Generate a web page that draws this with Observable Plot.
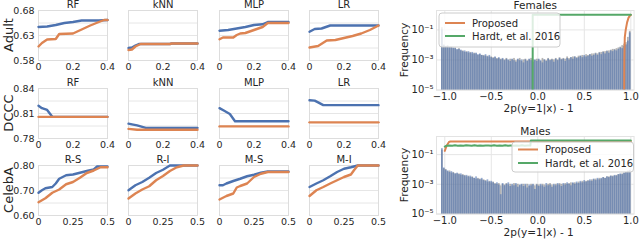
<!DOCTYPE html>
<html><head><meta charset="utf-8">
<script src="https://cdn.jsdelivr.net/npm/d3@7"></script>
<script src="https://cdn.jsdelivr.net/npm/@observablehq/plot@0.6"></script>
<style>
html,body{margin:0;padding:0;background:#fff;}
#c{position:relative;width:640px;height:242px;overflow:hidden;font-family:"DejaVu Sans",sans-serif;color:#262626;}
#c svg{position:absolute;}
.lbl{position:absolute;white-space:nowrap;line-height:1;transform-origin:center center;color:#262626;font-family:"DejaVu Sans",sans-serif;}
</style></head><body><div id="c"></div>
<script>
// ---------- small panels data ([fairness tolerance, accuracy]) ----------
const adultRF_blue   = [[0,0.647],[0.05,0.648],[0.1,0.651],[0.15,0.655],[0.2,0.657],[0.25,0.66],[0.3,0.66],[0.35,0.66],[0.4,0.661]];
const adultRF_orange = [[0,0.608],[0.02,0.615],[0.05,0.622],[0.1,0.623],[0.12,0.633],[0.2,0.634],[0.25,0.642],[0.3,0.65],[0.35,0.657],[0.38,0.661],[0.4,0.661]];
const adultKNN_blue   = [[0,0.605],[0.02,0.606],[0.04,0.61],[0.06,0.613],[0.24,0.613],[0.25,0.614],[0.4,0.614]];
const adultKNN_orange = [[0,0.601],[0.02,0.602],[0.04,0.608],[0.07,0.613],[0.24,0.613],[0.25,0.614],[0.4,0.614]];
const adultMLP_blue   = [[0,0.6395],[0.05,0.641],[0.1,0.644],[0.15,0.647],[0.2,0.651],[0.25,0.6525],[0.28,0.657],[0.4,0.657]];
const adultMLP_orange = [[0,0.6225],[0.02,0.626],[0.08,0.626],[0.1,0.631],[0.12,0.634],[0.15,0.635],[0.2,0.641],[0.25,0.647],[0.28,0.655],[0.4,0.655]];
const adultLR_blue   = [[0,0.6375],[0.03,0.643],[0.07,0.644],[0.12,0.65],[0.4,0.65]];
const adultLR_orange = [[0,0.606],[0.05,0.609],[0.1,0.62],[0.15,0.621],[0.2,0.625],[0.25,0.629],[0.3,0.634],[0.35,0.641],[0.4,0.65]];

const dcccRF_blue   = [[0,0.8193],[0.02,0.8164],[0.05,0.8143],[0.08,0.806],[0.4,0.806]];
const dcccRF_orange = [[0,0.806],[0.4,0.806]];
const dcccKNN_blue   = [[0,0.7978],[0.02,0.797],[0.05,0.7957],[0.1,0.7928],[0.4,0.7928]];
const dcccKNN_orange = [[0,0.7916],[0.05,0.7905],[0.4,0.7905]];
const dcccMLP_blue   = [[0,0.8164],[0.03,0.813],[0.06,0.8094],[0.09,0.8007],[0.4,0.8007]];
const dcccMLP_orange = [[0,0.7945],[0.4,0.7945]];
const dcccLR_blue   = [[0,0.8259],[0.03,0.8255],[0.05,0.8234],[0.08,0.82],[0.4,0.82]];
const dcccLR_orange = [[0,0.7994],[0.4,0.7994]];

const celebRS_blue   = [[0,0.691],[0.025,0.701],[0.05,0.709],[0.1,0.714],[0.125,0.728],[0.15,0.747],[0.2,0.761],[0.25,0.764],[0.3,0.771],[0.35,0.778],[0.4,0.784],[0.425,0.796],[0.5,0.796]];
const celebRS_orange = [[0,0.653],[0.05,0.669],[0.1,0.691],[0.15,0.704],[0.2,0.725],[0.25,0.734],[0.3,0.751],[0.35,0.77],[0.4,0.78],[0.45,0.793],[0.5,0.793]];
const celebRI_blue   = [[0,0.701],[0.05,0.721],[0.1,0.734],[0.15,0.751],[0.2,0.77],[0.25,0.783],[0.3,0.8],[0.5,0.8]];
const celebRI_orange = [[0,0.668],[0.05,0.688],[0.1,0.704],[0.15,0.717],[0.2,0.741],[0.25,0.758],[0.3,0.778],[0.35,0.793],[0.4,0.8],[0.5,0.8]];
const celebMS_blue   = [[0,0.721],[0.025,0.721],[0.05,0.728],[0.1,0.738],[0.15,0.747],[0.2,0.757],[0.25,0.763],[0.3,0.771],[0.35,0.776],[0.5,0.776]];
const celebMS_orange = [[0,0.664],[0.05,0.678],[0.1,0.688],[0.125,0.712],[0.15,0.718],[0.2,0.728],[0.25,0.754],[0.3,0.767],[0.35,0.774],[0.5,0.774]];
const celebMI_blue   = [[0,0.714],[0.05,0.728],[0.1,0.741],[0.15,0.757],[0.2,0.774],[0.25,0.787],[0.3,0.793],[0.35,0.8],[0.5,0.8]];
const celebMI_orange = [[0,0.678],[0.05,0.701],[0.1,0.714],[0.15,0.728],[0.2,0.741],[0.25,0.754],[0.3,0.764],[0.325,0.783],[0.35,0.8],[0.5,0.8]];

const adultTitles = ["RF","kNN","MLP","LR"];
const celebTitles = ["R-S","R-I","M-S","M-I"];
const rowNames = ["Adult","DCCC","CelebA"];
const adultYTicks = [0.58,0.605,0.63,0.655,0.68];
const adultYLabels = [0.58,0.63,0.68];
const dcccYTicks = [0.78,0.795,0.81,0.825,0.84];
const dcccYLabels = [0.78,0.81,0.84];
const celebYTicks = [0.6,0.65,0.7,0.75,0.8];
const celebYLabels = [0.6,0.7,0.8];
const xTicks04 = [0,0.2,0.4];
const xTicks05 = [0,0.25,0.5];

// ---------- histogram data (log10 frequency, 100 bins over [-1,1]) ----------
const femalesBlue = [
-1.0,-2.05,-2.1,-2.1,-2.15,-2.2,-2.2,-2.25,-2.3,-2.3,
-2.35,-2.45,-2.4,-2.5,-2.45,-2.55,-2.5,-2.6,-2.55,-2.65,
-2.6,-2.7,-2.75,-2.65,-2.8,-2.7,-2.85,-2.9,-2.8,-2.95,
-2.85,-3.0,-2.9,-3.05,-2.95,-3.0,-3.1,-2.95,-3.05,-3.15,
-2.95,-3.05,-3.0,-3.2,-3.0,-3.1,-2.95,-3.05,-3.15,-3.0,
-3.1,-2.95,-3.05,-3.2,-3.0,-3.1,-2.95,-3.05,-3.0,-3.15,
-2.95,-3.05,-2.9,-3.0,-2.95,-3.1,-2.9,-3.0,-2.85,-2.95,
-2.8,-2.9,-2.85,-2.75,-2.85,-2.7,-2.8,-2.75,-2.65,-2.75,
-2.7,-2.6,-2.7,-2.55,-2.65,-2.5,-2.6,-2.45,-2.55,-2.4,
-2.45,-2.35,-2.4,-2.3,-2.2,-2.25,-2.1,-2.0,-1.75,-1.2];
const femalesGray = [
-0.85,-2.0,-2.15,-2.05,-2.2,-2.15,-2.25,-2.2,-2.35,-2.25,
-2.4,-2.4,-2.5,-2.45,-2.55,-2.5,-2.6,-2.55,-2.6,-2.7,
-2.65,-2.7,-2.7,-2.75,-2.75,-2.8,-2.8,-2.85,-2.85,-2.9,
-2.9,-2.95,-2.95,-3.0,-2.9,-3.05,-2.95,-3.0,-2.9,-3.05,
-3.0,-2.9,-3.1,-3.0,-2.95,-3.05,-3.0,-2.9,-3.0,-3.05,
-2.95,-3.0,-3.1,-2.9,-3.0,-3.05,-2.9,-3.0,-2.95,-3.0,
-2.9,-3.0,-2.85,-2.95,-2.9,-2.95,-2.8,-2.9,-2.85,-2.8,
-2.8,-2.85,-2.75,-2.75,-2.7,-2.8,-2.65,-2.7,-2.65,-2.6,
-2.6,-2.55,-2.6,-2.5,-2.5,-2.45,-2.45,-2.4,-2.4,-2.35,
-2.3,-2.3,-2.25,-2.2,-2.15,-2.05,-1.95,-1.85,-1.5,-1.1];
const malesBlue = [
-0.6,-1.9,-2.05,-2.1,-2.2,-2.15,-2.25,-2.3,-2.25,-2.35,
-2.3,-2.4,-2.45,-2.4,-2.5,-2.45,-2.55,-2.6,-2.5,-2.65,
-2.7,-2.6,-2.75,-2.8,-2.7,-2.85,-2.8,-2.9,-3.0,-2.9,
-3.05,-3.7,-2.95,-3.1,-3.0,-2.9,-3.15,-3.0,-3.1,-2.95,
-3.2,-3.05,-3.0,-3.15,-3.0,-3.25,-3.05,-3.1,-3.0,-3.35,
-3.05,-3.15,-3.0,-3.1,-3.2,-2.95,-3.1,-3.05,-3.2,-3.0,
-3.1,-2.95,-3.05,-3.15,-2.95,-3.05,-2.9,-3.0,-3.1,-2.9,
-3.0,-2.85,-2.95,-2.8,-2.9,-2.75,-2.85,-2.8,-2.7,-2.8,
-2.65,-2.75,-2.6,-2.7,-2.6,-2.55,-2.6,-2.5,-2.55,-2.45,
-2.5,-2.4,-2.45,-2.35,-2.3,-2.35,-2.25,-2.2,-2.15,-2.1];
const malesGray = [
-0.7,-1.95,-2.0,-2.15,-2.1,-2.25,-2.2,-2.3,-2.3,-2.3,
-2.4,-2.35,-2.4,-2.5,-2.45,-2.55,-2.5,-2.6,-2.65,-2.6,
-2.65,-2.7,-2.7,-2.75,-2.85,-2.8,-2.9,-2.85,-2.95,-3.0,
-2.95,-3.1,-3.0,-3.05,-2.95,-3.05,-3.0,-3.1,-2.95,-3.05,
-3.0,-3.1,-3.05,-3.0,-3.1,-3.0,-3.15,-3.0,-3.05,-3.1,
-3.0,-3.05,-3.1,-3.0,-3.05,-3.1,-3.0,-2.95,-3.05,-3.1,
-3.0,-3.05,-2.95,-3.0,-3.05,-2.95,-3.0,-2.95,-2.9,-2.95,
-2.9,-2.95,-2.85,-2.9,-2.8,-2.85,-2.8,-2.75,-2.8,-2.7,
-2.7,-2.65,-2.7,-2.6,-2.65,-2.55,-2.6,-2.5,-2.5,-2.45,
-2.45,-2.45,-2.4,-2.35,-2.35,-2.3,-2.25,-2.2,-2.1,-2.05];

// threshold curves ([2p-1, log10 frequency])
const femalesProposed = [[0.928,-6],[0.93,-3],[0.935,-1.5],[0.945,-1.0],[0.96,-0.5],[0.975,-0.2],[0.99,-0.05],[1.0,0]];
const femalesHardt = [[-0.055,-6],[-0.055,0],[1.0,0]];
const malesProposed = [[-1.0,-0.75],[-0.98,-0.4],[-0.955,-0.15],[-0.94,-0.12],[1.0,-0.1]];
const malesHardt = [[-1.0,-0.46],[-0.98,-0.40],[-0.95,-0.38],[-0.92,-0.41],[-0.89,-0.37],[-0.86,-0.40],[-0.83,-0.38],[-0.80,-0.41],[-0.77,-0.37],[-0.74,-0.39],[-0.71,-0.41],[-0.68,-0.37],[-0.65,-0.40],[-0.62,-0.38],[-0.59,-0.41],[-0.56,-0.38],[-0.53,-0.39],[-0.50,-0.41],[-0.47,-0.37],[-0.44,-0.40],[-0.41,-0.38],[-0.38,-0.41],[-0.35,-0.37],[-0.32,-0.40],[-0.29,-0.38],[-0.26,-0.41],[-0.23,-0.38],[-0.20,-0.40],[-0.17,-0.37],[-0.14,-0.40],[-0.11,-0.38],[-0.08,-0.39],[-0.075,-0.05],[1.0,-0.05]];
const histXTicks = [-1,-0.5,0,0.5,1];
const histYTicks = [1e-5,1e-3,1e-1];
const histTitles = ["Females","Males"];
const legendLabels = ["Proposed","Hardt, et al. 2016"];

// ---------- drawing ----------
const BLUE = "#4c72b0", ORANGE = "#dd8452", GREEN = "#55a868", GRID = "#e6e6e6", INK = "#262626";
const FONT = "DejaVu Sans, sans-serif";
const root = document.getElementById("c");
const pts = a => a.map(([x, y]) => ({x, y}));

function place(svg, left, top) {
  svg.style.position = "absolute";
  svg.style.left = left + "px";
  svg.style.top = top + "px";
  svg.style.background = "transparent";
  svg.style.overflow = "visible";
  svg.style.maxWidth = "none";
  root.appendChild(svg);
}
function htmlLabel(text, cx, cy, size, rot) {
  const d = document.createElement("div");
  d.className = "lbl";
  d.textContent = text;
  d.style.fontSize = size + "px";
  d.style.left = cx + "px";
  d.style.top = cy + "px";
  d.style.transform = "translate(-50%,-50%)" + (rot ? " rotate(" + rot + "deg)" : "");
  root.appendChild(d);
}

function smallPanel({L, T, xDomain, xTicks, yDomain, yTicks, yLabels, blue, orange, title, showY}) {
  const W = 69, H = 50, ml = 42, mr = 10, mt = 14, mb = 16;
  const svg = Plot.plot({
    width: W + ml + mr, height: H + mt + mb,
    marginLeft: ml, marginRight: mr, marginTop: mt, marginBottom: mb,
    x: {domain: xDomain}, y: {domain: yDomain},
    style: {fontFamily: FONT, fontSize: "9.5px", color: INK},
    marks: [
      Plot.ruleY(yTicks, {stroke: GRID, strokeWidth: 1}),
      Plot.frame({stroke: "#dddddd"}),
      Plot.axisX(xTicks, {tickSize: 0, tickPadding: 3, label: null, tickFormat: d => d === 0 ? "0" : String(d)}),
      showY ? Plot.axisY(yLabels, {tickSize: 0, tickPadding: 4, label: null, tickFormat: d => d.toFixed(2)}) : Plot.axisY([], {label: null}),
      Plot.line(pts(blue), {x: "x", y: "y", stroke: BLUE, strokeWidth: 2.4}),
      Plot.line(pts(orange), {x: "x", y: "y", stroke: ORANGE, strokeWidth: 2.4}),
      Plot.text([title], {frameAnchor: "top", dy: -6, lineAnchor: "middle", fontSize: 10, fill: INK})
    ]
  });
  place(svg, L - ml, T - mt);
}

const colL = [37.5, 128, 218.5, 309];
const adultSeries = [[adultRF_blue, adultRF_orange],[adultKNN_blue, adultKNN_orange],[adultMLP_blue, adultMLP_orange],[adultLR_blue, adultLR_orange]];
const dcccSeries = [[dcccRF_blue, dcccRF_orange],[dcccKNN_blue, dcccKNN_orange],[dcccMLP_blue, dcccMLP_orange],[dcccLR_blue, dcccLR_orange]];
const celebSeries = [[celebRS_blue, celebRS_orange],[celebRI_blue, celebRI_orange],[celebMS_blue, celebMS_orange],[celebMI_blue, celebMI_orange]];
const rows = [
  {T: 10, titles: adultTitles, series: adultSeries, xDomain: [0,0.4], xTicks: xTicks04, yDomain: [0.58,0.68], yTicks: adultYTicks, yLabels: adultYLabels},
  {T: 87.5, titles: adultTitles, series: dcccSeries, xDomain: [0,0.4], xTicks: xTicks04, yDomain: [0.78,0.84], yTicks: dcccYTicks, yLabels: dcccYLabels},
  {T: 165, titles: celebTitles, series: celebSeries, xDomain: [0,0.5], xTicks: xTicks05, yDomain: [0.6,0.8], yTicks: celebYTicks, yLabels: celebYLabels}
];
rows.forEach((r, i) => {
  r.series.forEach(([b, o], j) => smallPanel({
    L: colL[j], T: r.T, xDomain: r.xDomain, xTicks: r.xTicks, yDomain: r.yDomain,
    yTicks: r.yTicks, yLabels: r.yLabels, blue: b, orange: o, title: r.titles[j], showY: j === 0
  }));
  htmlLabel(rowNames[i], 8, r.T + 25, 13, -90);
});

// histogram panels
const binStart = -1.035, binW = 0.0204;
const bins = v => v.map((lv, i) => ({x1: binStart + i * binW, x2: binStart + (i + 1) * binW, f: Math.pow(10, lv)}));
const curve = a => a.map(([x, ly]) => ({x, f: Math.pow(10, ly)}));
const fmtX = d => d.toFixed(1).replace("-", "\u2212");
const supDigits = {"1": "\u00B9", "3": "\u00B3", "5": "\u2075"};
const fmtY = d => "10\u207B" + supDigits[String(-Math.round(Math.log10(d)))];

function histPanel({T, H, yTop, blue, gray, proposed, hardt, title}) {
  const L = 435.7, W = 197.6, ml = 44, mr = 6, mt = 14, mb = 28;
  const svg = Plot.plot({
    width: W + ml + mr, height: H + mt + mb,
    marginLeft: ml, marginRight: mr, marginTop: mt, marginBottom: mb,
    x: {domain: [-1.089, 1.035]}, y: {type: "log", domain: [1e-5, yTop]},
    style: {fontFamily: FONT, fontSize: "10px", color: INK},
    marks: [
      Plot.gridX(histXTicks, {stroke: GRID, strokeOpacity: 1}),
      Plot.gridY(histYTicks, {stroke: GRID, strokeOpacity: 1}),
      Plot.frame({stroke: "#e3e3e3"}),
      Plot.rect(bins(gray), {x1: "x1", x2: "x2", y1: 1e-5, y2: "f", fill: "#8c8c8c", fillOpacity: 0.65, insetRight: 0.2}),
      Plot.rect(bins(blue), {x1: "x1", x2: "x2", y1: 1e-5, y2: "f", fill: BLUE, fillOpacity: 0.6, insetRight: 0.2}),
      Plot.line(curve(proposed), {x: "x", y: "f", stroke: ORANGE, strokeWidth: 2, clip: true}),
      Plot.line(curve(hardt), {x: "x", y: "f", stroke: GREEN, strokeWidth: 2, clip: true}),
      Plot.axisX(histXTicks, {tickSize: 0, tickPadding: 3, label: null, tickFormat: fmtX}),
      Plot.axisY(histYTicks, {tickSize: 0, tickPadding: 3, label: null, tickFormat: fmtY}),
      Plot.text([title], {frameAnchor: "top", dy: -5, lineAnchor: "middle", fontSize: 10.5, fill: INK})
    ]
  });
  place(svg, L - ml, T - mt);
  htmlLabel("2p(y=1|x) - 1", L + 103, T + H + 18.5, 10.5, 0);
  htmlLabel("Frequency", 403.5, T + H / 2, 10.5, -90);
}

histPanel({T: 10, H: 79.5, yTop: 1.95, blue: femalesBlue, gray: femalesGray, proposed: femalesProposed, hardt: femalesHardt, title: histTitles[0]});
histPanel({T: 136, H: 77.5, yTop: 1.66, blue: malesBlue, gray: malesGray, proposed: malesProposed, hardt: malesHardt, title: histTitles[1]});

// legends (small SVG overlays)
function legend(left, top, w, h, rowsY) {
  const ns = "http://www.w3.org/2000/svg";
  const s = document.createElementNS(ns, "svg");
  s.setAttribute("width", w + 2); s.setAttribute("height", h + 2);
  s.style.position = "absolute"; s.style.left = (left - 1) + "px"; s.style.top = (top - 1) + "px";
  const r = document.createElementNS(ns, "rect");
  Object.entries({x: 1, y: 1, width: w, height: h, rx: 3, fill: "white", "fill-opacity": 0.8, stroke: "#cccccc", "stroke-width": 1}).forEach(([k, v]) => r.setAttribute(k, v));
  s.appendChild(r);
  [ORANGE, GREEN].forEach((c, i) => {
    const l = document.createElementNS(ns, "line");
    Object.entries({x1: 7, x2: 27, y1: rowsY[i] + 1, y2: rowsY[i] + 1, stroke: c, "stroke-width": 2}).forEach(([k, v]) => l.setAttribute(k, v));
    s.appendChild(l);
    const t = document.createElementNS(ns, "text");
    Object.entries({x: 34, y: rowsY[i] + 1, "dominant-baseline": "central", "font-family": FONT, "font-size": "10px", fill: INK}).forEach(([k, v]) => t.setAttribute(k, v));
    t.textContent = legendLabels[i];
    s.appendChild(t);
  });
  root.appendChild(s);
}
legend(438.5, 13, 121, 34, [10, 23]);
legend(511.5, 141.5, 121.5, 30, [7.5, 21]);
</script></body></html>
